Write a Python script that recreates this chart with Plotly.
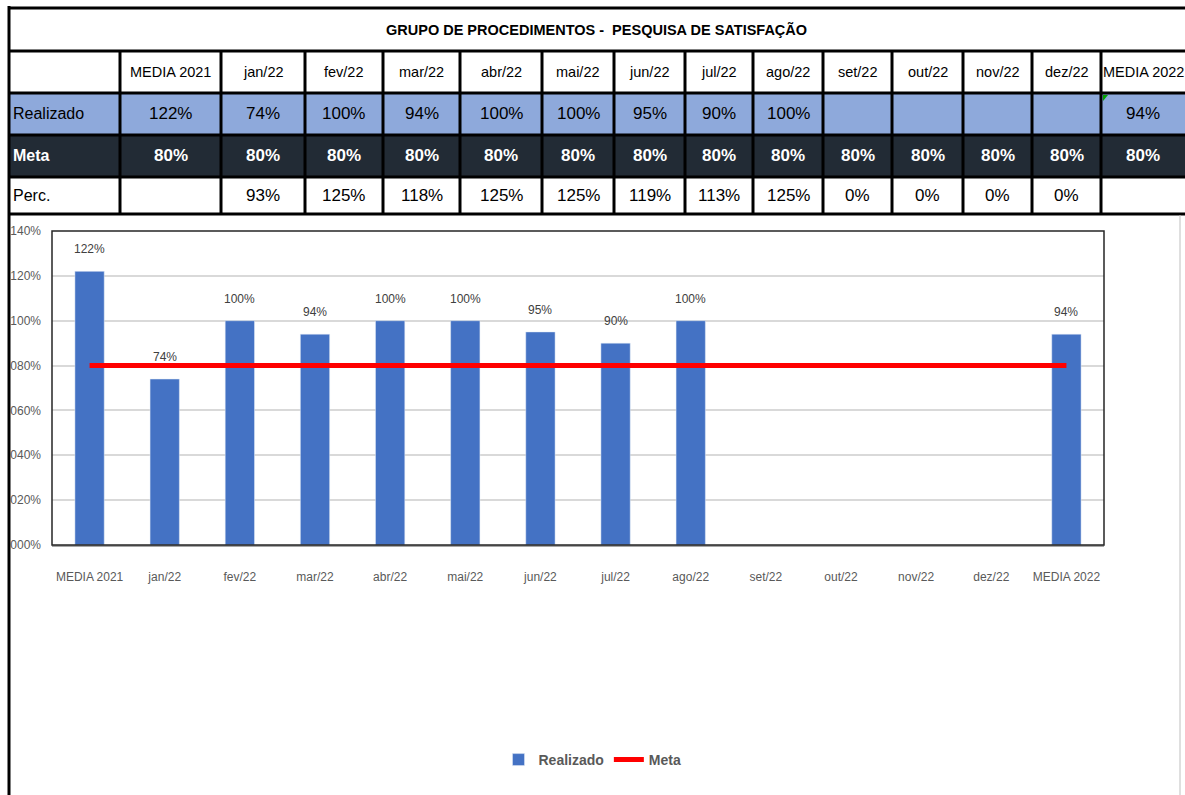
import plotly.graph_objects as go

# dados da planilha
categorias = ['MEDIA 2021', 'jan/22', 'fev/22', 'mar/22', 'abr/22', 'mai/22', 'jun/22',
              'jul/22', 'ago/22', 'set/22', 'out/22', 'nov/22', 'dez/22', 'MEDIA 2022']
realizado = [1.22, 0.74, 1.00, 0.94, 1.00, 1.00, 0.95, 0.90, 1.00, None, None, None, None, 0.94]
meta = [0.80] * 14
perc = [None, 0.93, 1.25, 1.18, 1.25, 1.25, 1.19, 1.13, 1.25, 0.0, 0.0, 0.0, 0.0, None]
titulo = 'GRUPO DE PROCEDIMENTOS -  PESQUISA DE SATISFAÇÃO'
linhas = ['Realizado', 'Meta', 'Perc.']

W, H = 1185, 795
FONT = 'Liberation Sans, Arial, sans-serif'

def fx(x):
    return x / W

def fy(y):
    return 1 - y / H

def pct(v):
    return '' if v is None else f'{v * 100:.0f}%'

# grade da tabela (pixels)
col_edges = [8, 120, 221, 305, 383, 460, 542, 614, 685, 753, 823, 892, 963, 1032, 1101, 1185]
row_edges = [8, 51, 93, 135, 177, 214]

fig = go.Figure()
fig.add_bar(x=categorias, y=realizado, name='<b>Realizado</b>', marker_color='#4472C4', width=0.39)
fig.add_scatter(x=categorias, y=meta, name='<b>Meta</b>', mode='lines',
                line=dict(color='#FF0000', width=5))

shapes = []
# preenchimento das linhas
shapes.append(dict(type='rect', xref='paper', yref='paper', x0=fx(8), x1=fx(1185),
                   y0=fy(93), y1=fy(135), fillcolor='#8EA9DB', line_width=0, layer='below'))
shapes.append(dict(type='rect', xref='paper', yref='paper', x0=fx(8), x1=fx(1185),
                   y0=fy(135), y1=fy(177), fillcolor='#222B35', line_width=0, layer='below'))
# linhas horizontais
for y in row_edges:
    shapes.append(dict(type='line', xref='paper', yref='paper', x0=fx(8), x1=fx(1185),
                       y0=fy(y), y1=fy(y), line=dict(color='black', width=3)))
# linhas verticais
for x in col_edges[1:-1]:
    shapes.append(dict(type='line', xref='paper', yref='paper', x0=fx(x), x1=fx(x),
                       y0=fy(51), y1=fy(214), line=dict(color='black', width=3)))
shapes.append(dict(type='line', xref='paper', yref='paper', x0=fx(9), x1=fx(9),
                   y0=fy(6), y1=fy(795), line=dict(color='black', width=3)))
shapes.append(dict(type='line', xref='paper', yref='paper', x0=fx(1180), x1=fx(1180),
                   y0=fy(215), y1=fy(795), line=dict(color='#BFBFBF', width=1)))
# indicador verde do excel
shapes.append(dict(type='path', xref='paper', yref='paper',
                   path=f'M {fx(1103)} {fy(95)} L {fx(1108)} {fy(95)} L {fx(1103)} {fy(101)} Z',
                   fillcolor='#00A000', line_width=0))
# borda da area de plotagem
shapes.append(dict(type='rect', xref='x domain', yref='y domain', x0=0, x1=1, y0=0, y1=1,
                   line=dict(color='#262626', width=1.5)))

annotations = []
annotations.append(dict(x=fx(596), y=fy(30), xref='paper', yref='paper', text=f'<b>{titulo}</b>',
                        showarrow=False, yanchor='middle',
                        font=dict(family=FONT, size=14.5, color='black')))
row_mid = [(row_edges[i] + row_edges[i + 1]) / 2 for i in range(1, 5)]
col_mid = [(col_edges[i] + col_edges[i + 1]) / 2 for i in range(1, 15)]

for i, c in enumerate(categorias):
    celulas = [(c, 14.5, 'black'), (pct(realizado[i]), 17, 'black'),
               (f'<b>{pct(meta[i])}</b>', 17, 'white'), (pct(perc[i]), 17, 'black')]
    for k, (txt, sz, cor) in enumerate(celulas):
        annotations.append(dict(x=fx(col_mid[i]), y=fy(row_mid[k]), xref='paper', yref='paper',
                                text=txt, showarrow=False, xanchor='center', yanchor='middle',
                                font=dict(family=FONT, size=sz, color=cor)))

for j, nome in enumerate(linhas):
    txt = f'<b>{nome}</b>' if nome == 'Meta' else nome
    cor = 'white' if nome == 'Meta' else 'black'
    annotations.append(dict(x=fx(11), y=fy(row_mid[j + 1]), xref='paper', yref='paper', text=txt,
                            xanchor='left', yanchor='middle', showarrow=False,
                            font=dict(family=FONT, size=16, color=cor)))

# rotulos de dados das barras
for c, v in zip(categorias, realizado):
    if v is None:
        continue
    annotations.append(dict(x=c, y=v, xref='x', yref='y', text=pct(v), showarrow=False,
                            yanchor='middle', yshift=22,
                            font=dict(family=FONT, size=12, color='#404040')))

fig.update_layout(
    width=W, height=H,
    margin=dict(l=0, r=0, t=0, b=0),
    paper_bgcolor='white', plot_bgcolor='white',
    shapes=shapes, annotations=annotations,
    showlegend=True,
    legend=dict(orientation='h', x=0.5, xanchor='center', y=fy(760), yanchor='middle',
                font=dict(family=FONT, size=14, color='#595959')),
    xaxis=dict(domain=[fx(52), fx(1104)], showgrid=False, showline=True, linecolor='#A6A6A6',
               linewidth=1.5, tickfont=dict(family=FONT, size=12, color='#595959'),
               ticklabelstandoff=20, range=[-0.5, 13.5], automargin=False),
    yaxis=dict(domain=[fy(545), fy(231)], range=[0, 1.4], dtick=0.2, tickformat='04.0%',
               showgrid=True, gridcolor='#D9D9D9', gridwidth=1.5, zeroline=False,
               showline=False, tickfont=dict(family=FONT, size=12, color='#595959'),
               ticklabelstandoff=10, automargin=False),
)

fig.write_html("out.html", config={'displayModeBar': False},
               post_script="document.body.style.margin = '0';")
